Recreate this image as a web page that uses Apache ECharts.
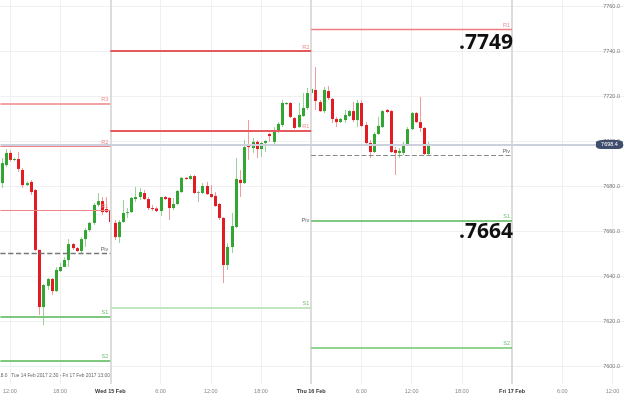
<!DOCTYPE html>
<html><head><meta charset="utf-8">
<script src="https://cdn.jsdelivr.net/npm/echarts@6/dist/echarts.min.js"></script>
<style>html,body{margin:0;padding:0;background:#fff}#c{width:624px;height:394px}</style>
</head><body><div id="c"></div>
<script>
// time in hours since Tue 14 Feb 2017 00:00; 30-minute candles
const candleStartHour = 11;
const candleStepHours = 0.5;
const opens = [7681.3,7689.3,7694.7,7691.6,7692.0,7687.1,7680.4,7681.8,7678.2,7651.6,
7626.2,7635.6,7638.7,7633.3,7642.2,7644.0,7647.1,7654.2,7652.4,7651.1,
7656.4,7660.4,7663.6,7671.6,7673.3,7669.8,7669.3,7663.6,7657.3,7664.0,
7668.0,7668.4,7674.2,7675.1,7676.9,7674.2,7670.2,7670.0,7668.9,7675.1,
7674.7,7670.2,7672.0,7677.3,7683.6,7683.1,7684.4,7677.3,7676.9,7680.0,
7676.4,7675.6,7672.0,7665.8,7644.9,7652.9,7661.8,7682.7,7681.3,7697.8,
7696.9,7699.6,7696.4,7699.1,7703.1,7699.6,7704.4,7707.1,7716.4,7716.9,
7710.2,7706.2,7711.1,7714.7,7721.3,7722.7,7717.3,7713.3,7722.2,7718.7,
7709.8,7708.4,7709.3,7711.1,7713.3,7709.3,7716.9,7707.1,7699.1,7695.1,
7703.1,7706.2,7713.8,7713.3,7696.0,7694.7,7694.7,7698.7,7705.3,7712.4,
7708.4,7705.8,7694.2];
const closes = [7690.2,7694.7,7691.6,7692.0,7687.6,7680.4,7681.3,7677.3,7651.6,7626.2,
7636.0,7638.7,7633.3,7642.7,7644.0,7647.1,7654.2,7652.4,7651.1,7656.4,
7660.4,7663.6,7671.6,7673.3,7668.4,7668.4,7664.0,7657.3,7664.0,7668.0,
7668.4,7674.7,7675.1,7677.3,7674.2,7670.2,7669.8,7668.9,7675.1,7674.2,
7670.2,7672.0,7677.8,7683.6,7683.1,7684.4,7676.9,7677.3,7680.0,7676.4,
7675.1,7671.1,7665.8,7644.9,7652.9,7662.2,7683.1,7681.3,7697.3,7697.3,
7699.6,7696.4,7699.1,7700.0,7702.2,7704.4,7707.6,7716.9,7716.9,7710.7,
7705.8,7711.6,7714.7,7721.3,7723.1,7717.8,7713.3,7722.7,7719.1,7709.8,
7708.4,7709.8,7711.6,7713.3,7709.3,7716.9,7706.7,7699.1,7695.1,7703.1,
7706.7,7713.3,7712.9,7695.1,7694.7,7695.6,7698.7,7705.3,7712.4,7708.4,
7705.8,7694.2,7698.4];
const lows = [7679.1,7688.4,7690.7,7691.1,7686.2,7679.1,7680.0,7676.0,7651.1,7622.7,
7618.2,7633.8,7631.6,7632.9,7641.8,7644.0,7644.0,7651.6,7650.7,7650.2,
7652.9,7659.6,7662.7,7670.7,7667.1,7668.0,7663.1,7656.0,7654.7,7663.6,
7665.8,7668.0,7672.9,7673.8,7673.8,7669.3,7668.9,7668.4,7666.7,7673.8,
7664.9,7669.3,7671.6,7676.9,7682.7,7682.7,7676.4,7672.9,7676.4,7676.0,
7674.7,7670.7,7664.9,7636.9,7642.7,7650.2,7661.3,7675.1,7680.9,7691.6,
7694.7,7692.4,7692.9,7695.1,7699.6,7697.8,7703.6,7706.2,7716.0,7710.2,
7705.3,7705.8,7710.7,7713.8,7720.9,7713.8,7712.9,7712.4,7718.2,7708.0,
7706.2,7708.0,7708.0,7710.7,7708.4,7706.2,7706.2,7698.2,7692.4,7694.7,
7702.7,7705.8,7712.4,7694.7,7684.9,7692.4,7693.8,7698.2,7704.9,7708.0,
7704.0,7693.8,7693.3];
const highs = [7692.4,7696.4,7696.0,7692.6,7695.1,7688.0,7682.0,7682.7,7678.7,7651.6,
7636.4,7639.1,7639.1,7644.0,7645.8,7648.4,7656.4,7654.7,7652.9,7657.3,
7661.3,7664.0,7672.4,7676.9,7675.1,7675.1,7670.0,7664.9,7664.9,7673.8,
7670.2,7675.1,7679.6,7679.1,7678.2,7675.1,7671.6,7670.7,7675.1,7675.6,
7675.1,7674.7,7678.2,7684.0,7684.0,7685.0,7684.9,7677.8,7681.3,7681.8,
7680.4,7677.3,7672.4,7666.2,7654.7,7668.0,7692.4,7687.1,7700.4,7709.3,
7701.3,7700.4,7699.6,7700.4,7703.6,7706.2,7708.4,7718.2,7717.3,7717.3,
7710.7,7716.9,7721.3,7723.6,7727.1,7732.9,7718.2,7724.0,7724.4,7719.1,
7710.7,7710.2,7713.8,7713.8,7717.3,7718.2,7718.2,7708.4,7700.4,7704.0,
7710.7,7713.8,7714.2,7713.8,7697.3,7696.9,7699.6,7706.2,7712.9,7712.9,
7719.6,7706.2,7699.6];

// daily pivot levels (Tue, Wed, Thu)
const pivotNames = ['R3','R2','R1','Piv','S1','S2'];
const pivotDayStart = [0, 24, 48];
const pivotDayEnd = [24, 48, 72];
const pivotTue = [7716.6, 7697.5, 7669.3, 7650.1, 7621.9, 7602.4];
const pivotWed = [null, 7740.0, 7704.6, 7662.7, 7625.9, null];
const pivotThu = [null, null, 7749.6, 7693.5, 7664.5, 7608.3];
const pivotLevels = [pivotTue, pivotWed, pivotThu];

const dayLabels = {24: 'Wed 15 Feb', 48: 'Thu 16 Feb', 72: 'Fri 17 Feb'};
const daySeparators = [24, 48, 72];
const lastPrice = closes[closes.length - 1];
const annotations = ['.7749', '.7664'];
const rangeText = '18.0   Tue 14 Feb 2017 2:30 - Fri 17 Feb 2017 13:00';

const X_MIN = 10.866, X_MAX = 85.373;

// styles per day / level
const pivotStyles = [
  [{c:'#f08487',w:1.5},{c:'#f08487',w:1},{c:'#f08487',w:1},{c:'#777',w:1.3,t:'dashed'},{c:'#7fc87f',w:2},{c:'#7fc87f',w:2}],
  [null,{c:'#e35a5d',w:2},{c:'#e65a5e',w:2},{c:'rgba(0,0,0,0)',w:1},{c:'#c2e5c2',w:2},null],
  [null,null,{c:'#f07c80',w:1.3},{c:'#888',w:1.2,t:'dashed'},{c:'#57b657',w:1.5},{c:'#6cc46c',w:1.5}]
];
const labelColors = {R: '#ee8a8c', P: '#666', S: '#6cbf6c'};

const candleData = opens.map((o, i) => [candleStartHour + i * candleStepHours, o, closes[i], lows[i], highs[i]]);

const markLines = [];
daySeparators.forEach(h => markLines.push({xAxis: h, lineStyle: {color: '#dcdcdc', width: 2, type: 'solid'}, label: {show: false}}));
markLines.push({yAxis: lastPrice, lineStyle: {color: '#cbd0dc', width: 2, type: 'solid'}, label: {show: false}});
pivotLevels.forEach((levels, d) => {
  levels.forEach((v, k) => {
    if (v === null) return;
    const st = pivotStyles[d][k];
    const name = pivotNames[k];
    const lc = name[0] === 'R' ? labelColors.R : (name[0] === 'P' ? labelColors.P : labelColors.S);
    markLines.push([
      {coord: [Math.max(pivotDayStart[d], X_MIN), v], lineStyle: {color: st.c, width: st.w, type: st.t || 'solid'},
       label: {show: true, formatter: name, position: 'insideEndTop', distance: [2, 1], color: lc, fontSize: 5.5, fontFamily: 'Liberation Sans'}},
      {coord: [pivotDayEnd[d], v]}
    ]);
  });
});

const chart = echarts.init(document.getElementById('c'), null, {renderer: 'canvas'});
chart.setOption({
  animation: false,
  backgroundColor: '#fff',
  grid: {left: 0, right: 0, top: 0, bottom: 10, containLabel: false},
  xAxis: {
    type: 'value', min: X_MIN, max: X_MAX, minInterval: 6, maxInterval: 6,
    axisLine: {show: false}, axisTick: {show: false},
    splitLine: {show: true, showMinLine: false, showMaxLine: false, lineStyle: {color: '#f0f0f2', width: 1}},
    axisLabel: {
      showMinLabel: false, showMaxLabel: false, margin: 4, fontSize: 5.5, color: '#888', fontFamily: 'Liberation Sans',
      formatter: v => {
        const h = Math.round(v);
        if (h % 24 === 0) return '{d|' + (dayLabels[h] || '') + '}';
        return (h % 24) + ':00';
      },
      rich: {d: {fontWeight: 'bold', color: '#333', fontSize: 5.5, fontFamily: 'Liberation Sans'}}
    }
  },
  yAxis: {
    type: 'value', position: 'right', min: 7592, max: 7762.667, minInterval: 20, maxInterval: 20,
    axisLine: {show: false}, axisTick: {show: false},
    splitLine: {show: true, showMinLine: false, showMaxLine: false, lineStyle: {color: '#f0f0f2', width: 1}},
    axisLabel: {inside: true, margin: 4, fontSize: 5.5, color: '#777', fontFamily: 'Liberation Sans',
      showMinLabel: false, showMaxLabel: false, formatter: v => v.toFixed(1)}
  },
  series: [
    {
      type: 'line', data: [], z: 1, silent: true,
      markLine: {symbol: ['none', 'none'], silent: true, animation: false, data: markLines},
      markPoint: {
        silent: true, animation: false,
        data: [{coord: [83.64, lastPrice], value: lastPrice}],
        symbol: 'roundRect', symbolSize: [27, 9],
        itemStyle: {color: '#3e4e6c'},
        label: {show: true, position: 'inside', color: '#fff', fontSize: 5.5, fontFamily: 'Liberation Sans', formatter: p => Number(p.value).toFixed(1)}
      }
    },
    {
      type: 'custom', z: 3, silent: true,
      encode: {x: 0, y: [1, 2, 3, 4]},
      data: candleData,
      renderItem: function (params, api) {
        const t = api.value(0), o = api.value(1), c = api.value(2), l = api.value(3), h = api.value(4);
        const pO = api.coord([t, o]), pC = api.coord([t, c]), pL = api.coord([t, l]), pH = api.coord([t, h]);
        const x = Math.round(pO[0]);
        const doji = o === c, up = c > o;
        const body = doji ? '#9a9a9a' : (up ? '#33a532' : '#e31b23');
        const wick = doji ? '#b5b5b5' : (up ? '#97d397' : '#f29a9d');
        const top = Math.min(pO[1], pC[1]), bot = Math.max(pO[1], pC[1]);
        return {type: 'group', children: [
          {type: 'line', shape: {x1: x + 0.5, y1: pH[1], x2: x + 0.5, y2: pL[1]}, style: {stroke: wick, lineWidth: 1}},
          {type: 'rect', shape: {x: x - 1, y: top, width: 3, height: Math.max(1, bot - top)}, style: {fill: body}}
        ]};
      }
    }
  ],
  graphic: [
    {type: 'text', x: 513, y: 43, z: 10, style: {text: annotations[0], textAlign: 'right', textVerticalAlign: 'middle', font: 'bold 21px "Open Sans"', fill: '#111'}},
    {type: 'text', x: 513, y: 232, z: 10, style: {text: annotations[1], textAlign: 'right', textVerticalAlign: 'middle', font: 'bold 21px "Open Sans"', fill: '#111'}},
    {type: 'text', x: -2, y: 376, z: 10, style: {text: rangeText, textVerticalAlign: 'middle', font: '4.8px "Liberation Sans"', fill: '#666'}}
  ]
});
</script></body></html>
